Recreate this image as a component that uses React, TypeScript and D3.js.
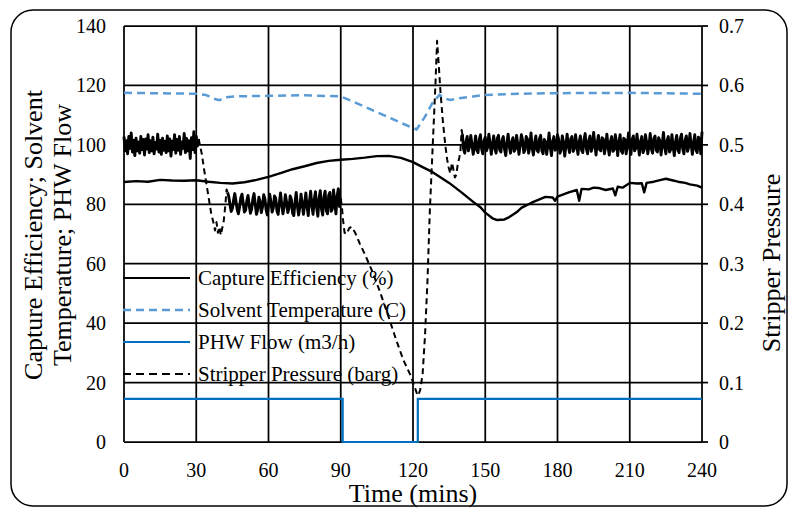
import React from "react";
import * as d3 from "d3";

// ---------- data ----------
const xTicks = [0, 30, 60, 90, 120, 150, 180, 210, 240];
const yLeftTicks = [0, 20, 40, 60, 80, 100, 120, 140];
const yRightTicks = [0, 0.1, 0.2, 0.3, 0.4, 0.5, 0.6, 0.7];
const yRightLabels = ["0", "0.1", "0.2", "0.3", "0.4", "0.5", "0.6", "0.7"];

const legendLabels = [
  "Capture Efficiency (%)",
  "Solvent Temperature (C)",
  "PHW Flow (m3/h)",
  "Stripper Pressure (barg)",
];

// Capture efficiency (%)
const captureTimes = [0, 5, 10, 15, 20, 25, 30, 35, 40, 45, 50, 55, 60, 65, 70, 75, 80, 85, 90, 95, 100, 105, 110, 115, 120, 124, 128, 132, 135, 140, 145, 148, 150, 153, 155, 158, 160, 163, 165, 168, 170, 173, 175, 178, 179, 180, 183, 185, 188, 189, 190, 193, 195, 197, 200, 203, 204, 205, 207, 210, 213, 215, 216, 217, 220, 223, 225, 228, 230, 233, 235, 238, 240];
const captureValues = [87.5, 87.8, 87.6, 88.2, 88.0, 87.9, 88.1, 87.6, 87.2, 87.0, 87.4, 88.2, 89.2, 90.5, 91.8, 92.8, 93.9, 94.6, 95.0, 95.3, 95.7, 96.2, 96.3, 95.6, 94.2, 92.5, 90.9, 88.8, 87.2, 84.1, 80.8, 79.0, 77.2, 75.3, 74.7, 74.9, 75.7, 77.3, 78.8, 80.0, 80.8, 81.8, 82.5, 82.3, 81.2, 82.6, 83.5, 84.1, 84.8, 81.2, 85.2, 85.0, 85.6, 85.5, 84.8, 85.3, 83.0, 85.9, 85.6, 87.2, 87.0, 87.1, 84.0, 87.2, 87.6, 88.2, 88.6, 88.0, 87.6, 87.2, 86.7, 86.3, 85.6];

// Solvent temperature (C)
const solventTimes = [0, 30, 34, 37, 39.5, 42, 46, 60, 75, 90, 95, 100, 105, 110, 115, 119, 121.5, 125, 128, 131, 133, 135.5, 140, 145, 150, 165, 180, 210, 240];
const solventValues = [117.5, 117.2, 116.8, 115.6, 115.0, 116.0, 116.3, 116.5, 116.7, 116.3, 114.6, 112.8, 111.0, 109.2, 107.4, 106.0, 105.2, 109.5, 114.0, 116.8, 115.6, 115.1, 115.8, 116.3, 116.8, 117.2, 117.4, 117.5, 117.2];

// PHW flow (m3/h)
const phwTimes = [0, 90.8, 122, 240];
const phwValues = [14.5, 0, 14.5, 14.5];

// Stripper pressure (barg) — sampled sections (start, step) and explicit transitions
const pressureA_start = 0;
const pressureA_step = 0.5;
const pressureA = [
  0.514, 0.49, 0.507, 0.485, 0.514, 0.494, 0.52, 0.488, 0.508, 0.482,
  0.511, 0.49, 0.505, 0.486, 0.514, 0.492, 0.509, 0.483, 0.51, 0.493,
  0.517, 0.487, 0.507, 0.49, 0.513, 0.485, 0.504, 0.493, 0.518, 0.488,
  0.508, 0.484, 0.511, 0.491, 0.506, 0.487, 0.515, 0.49, 0.51, 0.481,
  0.506, 0.492, 0.517, 0.486, 0.509, 0.491, 0.514, 0.484, 0.505, 0.494,
  0.519, 0.487, 0.511, 0.49, 0.507, 0.477, 0.512, 0.492, 0.522, 0.487,
  0.514, 0.498, 0.51,
];
const pressureT1_times = [31.5, 32.3, 33.2, 34.2, 35.2, 36.2, 37.2, 37.8, 38.4, 39, 39.6, 40.2, 40.8, 41.4, 42, 42.6];
const pressureT1_values = [0.5, 0.485, 0.46, 0.435, 0.41, 0.385, 0.368, 0.356, 0.37, 0.352, 0.362, 0.348, 0.36, 0.372, 0.395, 0.425];
const pressureB_start = 43;
const pressureB_step = 0.5;
const pressureB = [
  0.42, 0.413, 0.4, 0.388, 0.393, 0.407, 0.418, 0.405, 0.391, 0.384,
  0.396, 0.411, 0.417, 0.402, 0.387, 0.39, 0.406, 0.415, 0.398, 0.385,
  0.392, 0.409, 0.418, 0.4, 0.383, 0.391, 0.412, 0.405, 0.386, 0.395,
  0.416, 0.409, 0.391, 0.382, 0.398, 0.417, 0.404, 0.387, 0.394, 0.414,
  0.41, 0.389, 0.383, 0.402, 0.419, 0.399, 0.384, 0.396, 0.416, 0.404,
  0.386, 0.393, 0.414, 0.408, 0.385, 0.381, 0.403, 0.42, 0.397, 0.382,
  0.395, 0.417, 0.402, 0.383, 0.4, 0.419, 0.396, 0.381, 0.405, 0.422,
  0.398, 0.383, 0.408, 0.421, 0.394, 0.38, 0.41, 0.423, 0.392, 0.382,
  0.412, 0.422, 0.39, 0.384, 0.415, 0.42, 0.388, 0.392, 0.424, 0.405,
  0.384, 0.414, 0.426, 0.396, 0.41,
];
const pressureT2_times = [90.5, 91, 91.6, 92.5, 93.5, 94.5, 96, 98, 100, 103, 106, 109.5, 113, 116, 119, 120.5, 121.5, 122.2, 123, 124, 125, 126, 127, 128.2, 129.3, 130, 130.6, 131.4, 132.4, 133.4, 134.2, 134.8, 135.5, 136.2, 136.8, 137.4, 138, 138.6, 139.2, 139.7, 140.2];
const pressureT2_values = [0.395, 0.372, 0.352, 0.35, 0.36, 0.362, 0.352, 0.333, 0.316, 0.288, 0.256, 0.215, 0.172, 0.138, 0.112, 0.095, 0.083, 0.078, 0.088, 0.115, 0.18, 0.27, 0.39, 0.5, 0.6, 0.675, 0.64, 0.59, 0.54, 0.5, 0.475, 0.462, 0.452, 0.47, 0.458, 0.445, 0.45, 0.468, 0.478, 0.49, 0.525];
const pressureD_start = 140.5;
const pressureD_step = 0.5;
const pressureD = [
  0.518, 0.493, 0.486, 0.505, 0.514, 0.49, 0.497, 0.516, 0.5, 0.484,
  0.498, 0.515, 0.491, 0.487, 0.509, 0.517, 0.493, 0.485, 0.507, 0.513,
  0.49, 0.496, 0.518, 0.503, 0.484, 0.5, 0.515, 0.494, 0.486, 0.511,
  0.516, 0.491, 0.488, 0.508, 0.514, 0.493, 0.482, 0.504, 0.518, 0.497,
  0.486, 0.505, 0.512, 0.489, 0.493, 0.516, 0.502, 0.484, 0.499, 0.517,
  0.508, 0.487, 0.491, 0.514, 0.51, 0.486, 0.497, 0.52, 0.494, 0.483,
  0.503, 0.515, 0.491, 0.488, 0.51, 0.516, 0.49, 0.485, 0.509, 0.505,
  0.484, 0.5, 0.52, 0.496, 0.482, 0.506, 0.514, 0.491, 0.493, 0.517,
  0.509, 0.486, 0.491, 0.515, 0.504, 0.481, 0.5, 0.518, 0.497, 0.487,
  0.51, 0.514, 0.489, 0.494, 0.517, 0.499, 0.484, 0.505, 0.515, 0.491,
  0.487, 0.509, 0.519, 0.493, 0.485, 0.508, 0.515, 0.489, 0.496, 0.521,
  0.501, 0.483, 0.504, 0.516, 0.492, 0.49, 0.512, 0.51, 0.485, 0.498,
  0.518, 0.496, 0.483, 0.506, 0.514, 0.489, 0.492, 0.517, 0.503, 0.482,
  0.505, 0.517, 0.49, 0.486, 0.511, 0.509, 0.485, 0.5, 0.52, 0.495,
  0.484, 0.509, 0.515, 0.49, 0.494, 0.518, 0.5, 0.483, 0.506, 0.514,
  0.487, 0.492, 0.517, 0.505, 0.485, 0.499, 0.519, 0.493, 0.486, 0.511,
  0.515, 0.491, 0.488, 0.512, 0.507, 0.483, 0.502, 0.521, 0.496, 0.485,
  0.507, 0.514, 0.488, 0.492, 0.517, 0.498, 0.482, 0.505, 0.516, 0.491,
  0.487, 0.511, 0.518, 0.493, 0.485, 0.508, 0.515, 0.489, 0.497, 0.519,
  0.5, 0.484, 0.504, 0.517, 0.491, 0.487, 0.513, 0.508, 0.485, 0.522,
];

// ---------- helpers ----------
type Pt = [number, number];
const zipPts = (ts: number[], vs: number[]): Pt[] => ts.map((t, i) => [t, vs[i]]);
const sampled = (start: number, step: number, vs: number[]): Pt[] =>
  vs.map((v, i) => [start + i * step, v]);

const secA = sampled(pressureA_start, pressureA_step, pressureA);
const secT1 = zipPts(pressureT1_times, pressureT1_values);
const secB = sampled(pressureB_start, pressureB_step, pressureB);
const secT2 = zipPts(pressureT2_times, pressureT2_values);
const secD = sampled(pressureD_start, pressureD_step, pressureD);

const FONT = "Liberation Serif";
const BLACK = "#000";
const LIGHT_BLUE = "#5B9BD5";
const BLUE = "#0070C0";

export default function App() {
  const W = 790;
  const H = 509;
  const x = d3.scaleLinear().domain([0, 240]).range([124, 702]);
  const yL = d3.scaleLinear().domain([0, 140]).range([442, 26]);
  const yR = d3.scaleLinear().domain([0, 0.7]).range([442, 26]);

  const lineL = d3
    .line<Pt>()
    .x((d) => x(d[0]))
    .y((d) => yL(d[1]));
  const lineR = d3
    .line<Pt>()
    .x((d) => x(d[0]))
    .y((d) => yR(d[1]));
  const lineStep = d3
    .line<Pt>()
    .x((d) => x(d[0]))
    .y((d) => yL(d[1]))
    .curve(d3.curveStepAfter);

  const capturePath = lineL(zipPts(captureTimes, captureValues)) || "";
  const solventPath = lineL(zipPts(solventTimes, solventValues)) || "";
  const phwPath = lineStep(zipPts(phwTimes, phwValues)) || "";

  // dense (noisy) sections of the pressure record read as a continuous band;
  // the transitions show the dashed style
  const denseSecs = [secA, secB, secD];
  const dashSecs = [
    [secA[secA.length - 1], ...secT1, secB[0]],
    [secB[secB.length - 1], ...secT2, secD[0]],
  ];

  const legendStyles = [
    { stroke: BLACK, dash: undefined as string | undefined, w: 2 },
    { stroke: LIGHT_BLUE, dash: "8,5", w: 2.5 },
    { stroke: BLUE, dash: undefined, w: 2.2 },
    { stroke: BLACK, dash: "8,5", w: 2 },
  ];
  const legendY = [278, 310, 342, 374];
  const ts = { fontFamily: FONT };

  return (
    <svg width={W} height={H} style={{ position: "absolute", left: 0, top: 0, background: "#fff" }}>
      <rect x={0} y={0} width={W} height={H} fill="#fff" />
      <rect x={11} y={10} width={776} height={496} rx={22} ry={22} fill="none" stroke={BLACK} strokeWidth={1.5} />

      {/* gridlines */}
      {yLeftTicks.map((t) => (
        <line key={"h" + t} x1={x(0)} x2={x(240)} y1={yL(t)} y2={yL(t)} stroke={BLACK} strokeWidth={1.75} />
      ))}
      {xTicks.map((t) => (
        <line key={"v" + t} x1={x(t)} x2={x(t)} y1={yL(0)} y2={yL(140)} stroke={BLACK} strokeWidth={1.75} />
      ))}
      {yRightTicks.map((t) => (
        <line key={"rt" + t} x1={x(240)} x2={x(240) + 6} y1={yR(t)} y2={yR(t)} stroke={BLACK} strokeWidth={1.75} />
      ))}

      {/* tick labels */}
      {yLeftTicks.map((t) => (
        <text key={"yl" + t} x={106} y={yL(t)} dy="0.35em" textAnchor="end" fontSize={20} fill={BLACK} style={ts}>
          {t}
        </text>
      ))}
      {yRightTicks.map((t, i) => (
        <text key={"yr" + t} x={719} y={yR(t)} dy="0.35em" textAnchor="start" fontSize={20} fill={BLACK} style={ts}>
          {yRightLabels[i]}
        </text>
      ))}
      {xTicks.map((t) => (
        <text key={"xt" + t} x={x(t)} y={477} textAnchor="middle" fontSize={20} fill={BLACK} style={ts}>
          {t}
        </text>
      ))}

      {/* axis titles */}
      <text x={413} y={502} textAnchor="middle" fontSize={26} fill={BLACK} style={ts}>
        Time (mins)
      </text>
      <text transform="translate(42,235) rotate(-90)" textAnchor="middle" fontSize={26} fill={BLACK} style={ts}>
        Capture Efficiency; Solvent
      </text>
      <text transform="translate(71,235) rotate(-90)" textAnchor="middle" fontSize={26} fill={BLACK} style={ts}>
        Temperature; PHW Flow
      </text>
      <text transform="translate(780,263) rotate(-90)" textAnchor="middle" fontSize={26} fill={BLACK} style={ts}>
        Stripper Pressure
      </text>

      {/* legend */}
      {legendLabels.map((lab, i) => (
        <g key={lab}>
          <line
            x1={123}
            x2={190}
            y1={legendY[i]}
            y2={legendY[i]}
            stroke={legendStyles[i].stroke}
            strokeWidth={legendStyles[i].w}
            strokeDasharray={legendStyles[i].dash}
          />
          <text x={198} y={legendY[i]} dy="0.35em" fontSize={21} fill={BLACK} style={ts}>
            {lab}
          </text>
        </g>
      ))}

      {/* series */}
      <path d={solventPath} fill="none" stroke={LIGHT_BLUE} strokeWidth={2.5} strokeDasharray="8,5" />
      <path d={phwPath} fill="none" stroke={BLUE} strokeWidth={2.2} />
      <path d={capturePath} fill="none" stroke={BLACK} strokeWidth={2.4} strokeLinejoin="round" />
      {denseSecs.map((s, i) => (
        <path key={"pd" + i} d={lineR(s) || ""} fill="none" stroke={BLACK} strokeWidth={2.9} strokeLinejoin="round" />
      ))}
      {dashSecs.map((s, i) => (
        <path key={"pt" + i} d={lineR(s) || ""} fill="none" stroke={BLACK} strokeWidth={2} strokeDasharray="6,4" strokeLinejoin="round" />
      ))}
    </svg>
  );
}
